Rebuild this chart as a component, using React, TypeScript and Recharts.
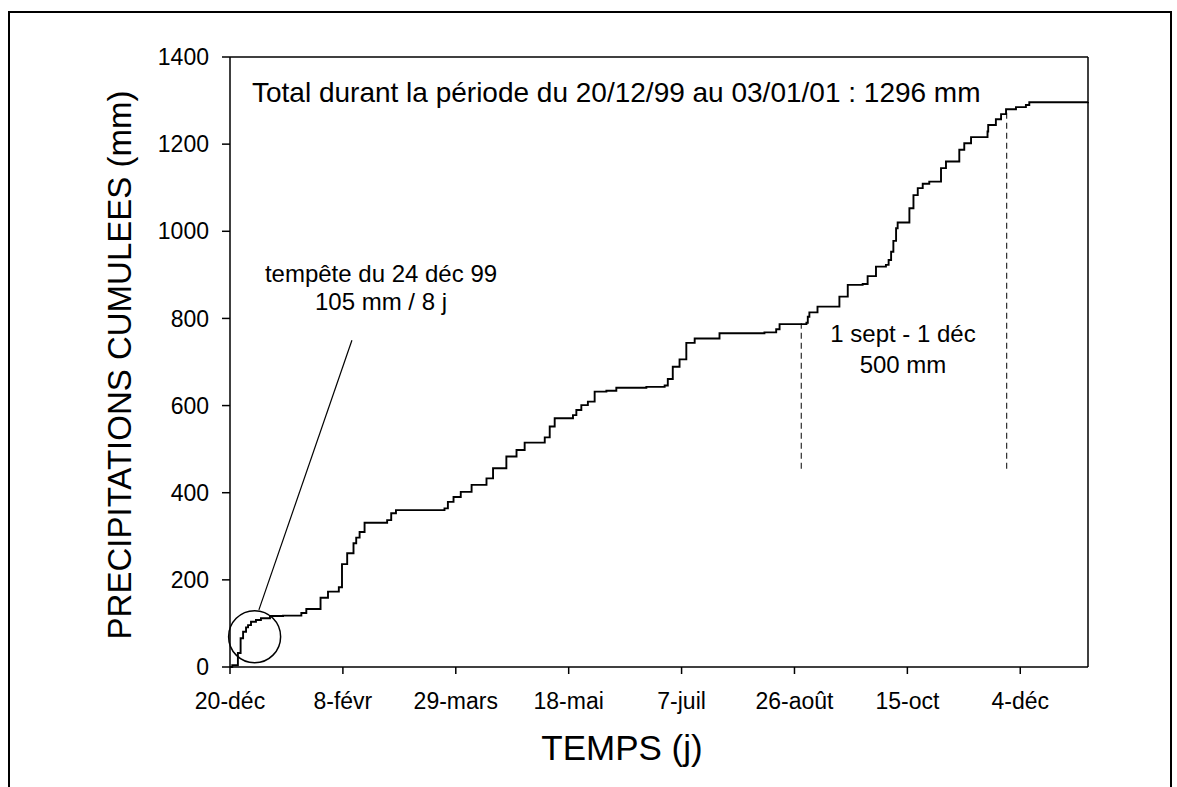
import React from "react";
import {
  LineChart,
  Line,
  XAxis,
  YAxis,
  ReferenceLine,
  ReferenceDot,
} from "recharts";

// jours depuis le 20/12/99 et cumul de pluie (mm)
const days = [
  0, 1, 3.5, 4.7, 5.8, 7.1, 8, 9.3, 11.5, 13.7, 17.7, 23.5, 31.6, 33.8, 40.1,
  43.4, 48.2, 49.6, 51.9, 54.7, 55.9, 57.4, 59.6, 69.6, 71.4, 73.5, 95, 96.5,
  99, 102.2, 107, 113.6, 116.5, 122.4, 126.9, 130.5, 139.4, 141.6, 143.8,
  151.9, 153.4, 155.6, 158.5, 161.5, 166.7, 171.1, 184.4, 192.5, 193.9, 196.1,
  199.1, 202.1, 205.8, 216.8, 236.7, 241.9, 243.4, 255.3, 255.9, 256.6, 260.2,
  269.9, 273.6, 280.2, 282.4, 286.1, 290.5, 291.7, 292.8, 293.8, 295, 295.7,
  300.9, 302.7, 304.6, 306.8, 309.7, 314.9, 317.1, 323, 325.2, 328.2, 335.5,
  335.8, 339.2, 341.5, 343.7, 348.1, 352.5, 354, 380,
];
const cumul = [
  0, 4, 32, 66, 81, 91, 96, 104, 108, 112, 117, 118, 124, 133, 159, 173, 183,
  236, 261, 284, 297, 310, 331, 337, 353, 360, 364, 379, 390, 402, 418, 433,
  456, 483, 498, 515, 527, 552, 571, 578, 590, 601, 609, 632, 634, 641, 643,
  646, 661, 689, 706, 744, 754, 766, 768, 775, 787, 790, 804, 814, 827, 850,
  877, 879, 897, 919, 923, 934, 953, 978, 1007, 1020, 1053, 1083, 1099, 1109,
  1114, 1145, 1160, 1187, 1202, 1216, 1229, 1244, 1257, 1269, 1280, 1285, 1290,
  1296, 1297,
];

const tickDays = [0, 50, 100, 150, 200, 250, 300, 350];
const tickLabels = [
  "20-déc",
  "8-févr",
  "29-mars",
  "18-mai",
  "7-juil",
  "26-août",
  "15-oct",
  "4-déc",
];
const yTicks = [0, 200, 400, 600, 800, 1000, 1200, 1400];

const data = days.map((d, i) => ({ day: d, pluie: cumul[i] }));

const font = "'Liberation Sans', Arial, sans-serif";

export default function App() {
  return (
    <div style={{ position: "relative", width: 1177, height: 787, fontFamily: font }}>
      <style>{"body{margin:0;overflow:hidden}"}</style>
      <div
        style={{
          position: "absolute",
          left: 8,
          top: 11,
          width: 1160,
          height: 776,
          border: "2px solid #000",
          borderBottom: "none",
        }}
      />
      <div style={{ position: "absolute", left: 0, top: 0 }}>
        <LineChart
          width={1177}
          height={787}
          data={data}
          margin={{ top: 57, right: 89, bottom: 80, left: 150 }}
        >
          <XAxis
            dataKey="day"
            type="number"
            domain={[0, 380]}
            ticks={tickDays}
            tickFormatter={(v: number) => tickLabels[tickDays.indexOf(v)] ?? ""}
            height={40}
            tickSize={7}
            tickMargin={19}
            stroke="#000"
            strokeWidth={1.5}
            tick={{ fill: "#000", fontSize: 23, fontFamily: font }}
          />
          <YAxis
            type="number"
            domain={[0, 1400]}
            ticks={yTicks}
            width={80}
            tickSize={8}
            tickMargin={13}
            stroke="#000"
            strokeWidth={1.5}
            tick={{ fill: "#000", fontSize: 23, fontFamily: font }}
          />
          <ReferenceLine y={1400} stroke="#000" strokeWidth={1.5} />
          <ReferenceLine x={380} stroke="#000" strokeWidth={1.5} />
          <ReferenceLine
            segment={[
              { x: 253, y: 455 },
              { x: 253, y: 789 },
            ]}
            stroke="#000"
            strokeDasharray="6 4"
            strokeWidth={1}
          />
          <ReferenceLine
            segment={[
              { x: 344, y: 455 },
              { x: 344, y: 1280 },
            ]}
            stroke="#000"
            strokeDasharray="6 4"
            strokeWidth={1}
          />
          <ReferenceLine
            segment={[
              { x: 54, y: 750 },
              { x: 12.8, y: 131 },
            ]}
            stroke="#000"
            strokeWidth={1.2}
          />
          <ReferenceDot
            x={10.9}
            y={69.5}
            r={26}
            fill="none"
            stroke="#000"
            strokeWidth={1.5}
            ifOverflow="visible"
          />
          <Line
            type="stepAfter"
            dataKey="pluie"
            stroke="#000"
            strokeWidth={1.9}
            dot={false}
            isAnimationActive={false}
          />
        </LineChart>
      </div>
      <svg
        width={1177}
        height={787}
        style={{ position: "absolute", left: 0, top: 0, pointerEvents: "none" }}
        fontFamily={font}
        fill="#000"
      >
        <text x={252} y={102} fontSize={28}>
          Total durant la période du 20/12/99 au 03/01/01 : 1296 mm
        </text>
        <text x={381} y={282} fontSize={24} textAnchor="middle">
          tempête du 24 déc 99
        </text>
        <text x={381} y={310} fontSize={24} textAnchor="middle">
          105 mm / 8 j
        </text>
        <text x={903} y={342} fontSize={24} textAnchor="middle">
          1 sept - 1 déc
        </text>
        <text x={903} y={373} fontSize={24} textAnchor="middle">
          500 mm
        </text>
        <text x={622} y={760} fontSize={35} textAnchor="middle">
          TEMPS (j)
        </text>
        <text
          x={131}
          y={365}
          fontSize={33}
          textAnchor="middle"
          transform="rotate(-90 131 365)"
        >
          PRECIPITATIONS CUMULEES (mm)
        </text>
      </svg>
    </div>
  );
}
